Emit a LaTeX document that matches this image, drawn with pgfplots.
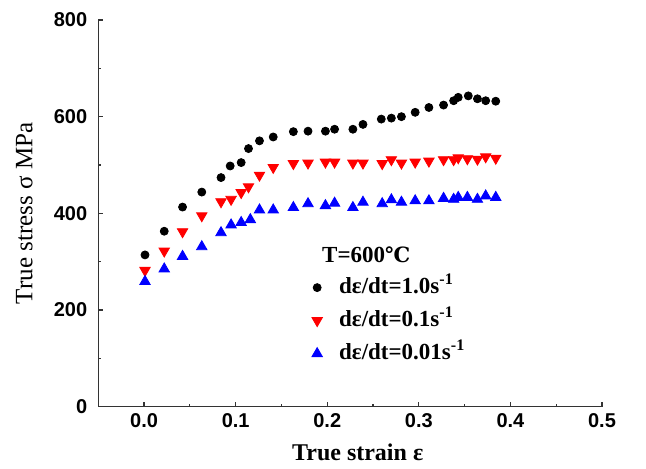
\documentclass[border=0pt]{standalone}
\usepackage{pgfplots}
\pgfplotsset{compat=1.18}
\usepackage{fontspec}
\setmainfont{Liberation Serif}
\newfontfamily\arialfont{Liberation Sans}
\newfontfamily\djv{DejaVu Serif}
\begin{document}
\begin{tikzpicture}
\useasboundingbox (-49.15pt,-31.15pt) rectangle (273.85pt,203.35pt);
\begin{axis}[
  scale only axis,
  width=251.85pt, height=193.35pt,
  at={(0,0)}, anchor=south west,
  xmin=-0.05, xmax=0.5, ymin=0, ymax=800,
  axis lines*=left,
  axis line style={line width=0.6pt, black!80},
  tick align=inside,
  tick style={line width=0.6pt, black!80},
  major tick length=2.5pt, minor tick length=1.5pt,
  xtick={0,0.1,0.2,0.3,0.4,0.5},
  ytick={0,200,400,600,800},
  minor x tick num=1, minor y tick num=1,
  /pgf/number format/assume math mode=true,
  ticklabel style={font=\arialfont\bfseries\fontsize{10}{12}\selectfont},
  xticklabel style={/pgf/number format/.cd, fixed, fixed zerofill, precision=1},
  yticklabel style={xshift=-2pt},
  xlabel={True strain ε},
  xlabel style={font=\bfseries\fontsize{12}{14}\selectfont, at={(axis description cs:0.515,-0.117)}, anchor=center},
  ylabel={True stress σ MPa},
  ylabel style={font=\fontsize{12.5}{14}\selectfont, at={(axis description cs:-0.147,0.5)}, anchor=center, rotate=0},
  legend image code/.code={\path[draw=none, fill=none] (-3pt,0pt) rectangle (10pt,0.1pt); \draw[#1] plot coordinates {(0pt,0pt)};},
  legend style={at={(axis cs:0.182,272)}, anchor=north west, draw=none, fill=none, inner sep=0pt,
     row sep=4.5pt, font=\bfseries\fontsize{11.5}{13}\selectfont,
     nodes={text height=8pt, text depth=2pt, inner sep=1pt}},
  legend cell align=left,
]
\addplot[only marks, mark=*, mark size=2pt, color=black] coordinates {
(0.001,314)(0.022,363)(0.042,413)(0.063,444)(0.084,474)(0.094,498)(0.106,505)
(0.114,534)(0.126,550)(0.141,558)(0.163,569)(0.179,570)(0.198,570)(0.208,574)
(0.228,574)(0.239,584)(0.259,595)(0.270,597)(0.281,600)(0.296,609)(0.311,619)
(0.327,624)(0.338,633)(0.343,640)(0.354,643)(0.364,637)(0.373,633)(0.384,632)
};
\addlegendentry{dε/dt=1.0s\textsuperscript{-1}}
\addplot[only marks, mark=triangle*, mark options={rotate=180}, mark size=3pt, color=red] coordinates {
(0.001,282)(0.022,322)(0.042,362)(0.063,395)(0.084,424)(0.095,429)(0.106,443)
(0.114,455)(0.126,479)(0.141,495)(0.163,503)(0.179,504)(0.198,506)(0.208,506)
(0.228,504)(0.239,504)(0.260,503)(0.270,511)(0.281,504)(0.296,506)(0.311,508)
(0.327,511)(0.338,511)(0.343,515)(0.353,513)(0.364,512)(0.373,517)(0.384,514)
};
\addlegendentry{dε/dt=0.1s\textsuperscript{-1}}
\addplot[only marks, mark=triangle*, mark size=3pt, color=blue] coordinates {
(0.001,259)(0.022,285)(0.042,311)(0.063,331)(0.084,360)(0.095,376)(0.106,381)
(0.116,387)(0.126,407)(0.141,407)(0.163,412)(0.179,420)(0.198,416)(0.208,421)
(0.228,412)(0.239,423)(0.260,420)(0.270,428)(0.281,423)(0.296,426)(0.311,426)
(0.327,431)(0.338,429)(0.343,433)(0.353,433)(0.364,429)(0.373,436)(0.384,433)
};
\addlegendentry{dε/dt=0.01s\textsuperscript{-1}}
\node[anchor=west, font=\bfseries\fontsize{11.5}{13}\selectfont, inner sep=0pt] at (axis cs:0.194,314) {T=600{\djv\fontsize{10.5}{12}\selectfont ℃}};
\end{axis}
\end{tikzpicture}
\end{document}
